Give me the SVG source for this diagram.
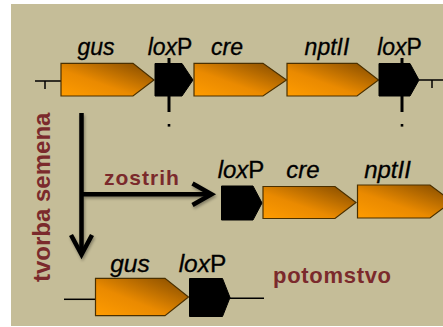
<svg xmlns="http://www.w3.org/2000/svg" width="443" height="327" viewBox="0 0 443 327">
  <defs>
    <linearGradient id="og" x1="0" y1="1" x2="1" y2="0">
      <stop offset="0" stop-color="#ff9c00"/>
      <stop offset="0.4" stop-color="#ea8a00"/>
      <stop offset="1" stop-color="#7e4800"/>
    </linearGradient>
    <filter id="sh" x="-20%" y="-20%" width="140%" height="140%">
      <feGaussianBlur in="SourceAlpha" stdDeviation="1.5"/>
      <feOffset dx="1" dy="1.5" result="b"/>
      <feComponentTransfer><feFuncA type="linear" slope="0.35"/></feComponentTransfer>
      <feMerge><feMergeNode/><feMergeNode in="SourceGraphic"/></feMerge>
    </filter>
  </defs>
  <style>
    .gene { fill: url(#og); stroke: #4a3000; stroke-width: 1.2; stroke-linejoin: miter; }
    .lox { fill: #000; stroke: #000; stroke-width: 1; }
    .lbl { font-family: "Liberation Sans", Arial, sans-serif; font-style: italic; fill: #000; stroke: #000; stroke-width: 0.3; text-anchor: middle; }
    .up { font-style: normal; }
    .red { font-family: "Liberation Sans", Arial, sans-serif; font-weight: bold; fill: #7b2a2c; }
    .thin { stroke: #000; stroke-width: 1.5; fill: none; }
    .tick { stroke: #000; stroke-width: 3; }
    .arr { stroke: #000; stroke-width: 4.5; fill: none; stroke-linecap: butt; stroke-linejoin: miter; }
  </style>
  <rect x="0" y="0" width="443" height="327" fill="#ffffff"/>
  <rect x="11" y="4" width="432" height="322" fill="#c5bd98"/>

  <g id="connectors">
    <line class="thin" x1="35" y1="81" x2="61" y2="81"/>
    <line class="thin" x1="45" y1="81" x2="45" y2="89"/>
    <line class="thin" x1="419" y1="80" x2="443" y2="80"/>
    <line class="thin" x1="432" y1="80" x2="432" y2="88"/>
    <line class="tick" x1="169" y1="58" x2="169" y2="112"/>
    <rect x="167.7" y="124" width="2.6" height="2.6" fill="#000"/>
    <line class="tick" x1="402" y1="58" x2="402" y2="112"/>
    <rect x="400.7" y="124" width="2.6" height="2.6" fill="#000"/>
    <line class="thin" x1="64" y1="299.3" x2="96" y2="299.3"/>
    <line class="thin" x1="230" y1="298.3" x2="264" y2="298.3"/>
    <g filter="url(#sh)">
      <line class="arr" x1="81.5" y1="113" x2="81.5" y2="253"/>
      <polyline class="arr" points="71,235 81.5,254.5 92,235"/>
      <line class="arr" x1="83" y1="194.3" x2="210" y2="194.3"/>
      <polyline class="arr" points="192.5,183.5 211.5,194.3 192.5,205"/>
    </g>
  </g>

  <g id="row1-gus">
    <polygon class="gene" points="61,63.3 133,63.3 154,80 133,96 61,96"/>
    <text class="lbl" x="96" y="55" font-size="23">gus</text>
  </g>
  <g id="row1-loxP1">
    <polygon class="lox" points="155,63.5 182,63.5 193,80 182,96 155,96"/>
    <text class="lbl" x="170" y="55" font-size="23">lox<tspan class="up">P</tspan></text>
  </g>
  <g id="row1-cre">
    <polygon class="gene" points="194,63.3 263,63.3 286.5,80 263,96 194,96"/>
    <text class="lbl" x="227" y="55" font-size="23">cre</text>
  </g>
  <g id="row1-nptII">
    <polygon class="gene" points="287,63.3 357,63.3 378.5,80 357,96 287,96"/>
    <text class="lbl" x="327" y="55" font-size="23">nptII</text>
  </g>
  <g id="row1-loxP2">
    <polygon class="lox" points="379,63.5 410,63.5 419,80 410,96 379,96"/>
    <text class="lbl" x="399.5" y="55" font-size="23">lox<tspan class="up">P</tspan></text>
  </g>

  <g id="row2-loxP">
    <polygon class="lox" points="221.5,186 253,186 262,203 253,220 221.5,220"/>
    <text class="lbl" x="241" y="177.5" font-size="24">lox<tspan class="up">P</tspan></text>
  </g>
  <g id="row2-cre">
    <polygon class="gene" points="263,186.5 335,186.5 356,202.5 335,218.5 263,218.5"/>
    <text class="lbl" x="303" y="177.5" font-size="24">cre</text>
  </g>
  <g id="row2-nptII">
    <polygon class="gene" points="357.5,185 430,185 452,201.5 430,218 357.5,218"/>
    <text class="lbl" x="387.5" y="177.5" font-size="24">nptII</text>
  </g>

  <g id="row3-gus">
    <polygon class="gene" points="95.5,278.3 165,278.3 188.5,297 165,315.7 95.5,315.7"/>
    <text class="lbl" x="130" y="272" font-size="24.5">gus</text>
  </g>
  <g id="row3-loxP">
    <polygon class="lox" points="189.5,278.5 222.5,278.5 230,297.5 222.5,316.5 189.5,316.5"/>
    <text class="lbl" x="202.5" y="272" font-size="24.5">lox<tspan class="up">P</tspan></text>
  </g>

  <g id="label-zostrih">
    <text class="red" x="104" y="185" font-size="21" letter-spacing="1">zostrih</text>
  </g>
  <g id="label-potomstvo">
    <text class="red" x="273" y="282.7" font-size="22" letter-spacing="0.7">potomstvo</text>
  </g>
  <g id="label-tvorba">
    <text class="red" transform="translate(50,282) rotate(-90)" x="0" y="0" font-size="24">tvorba semena</text>
  </g>
</svg>
